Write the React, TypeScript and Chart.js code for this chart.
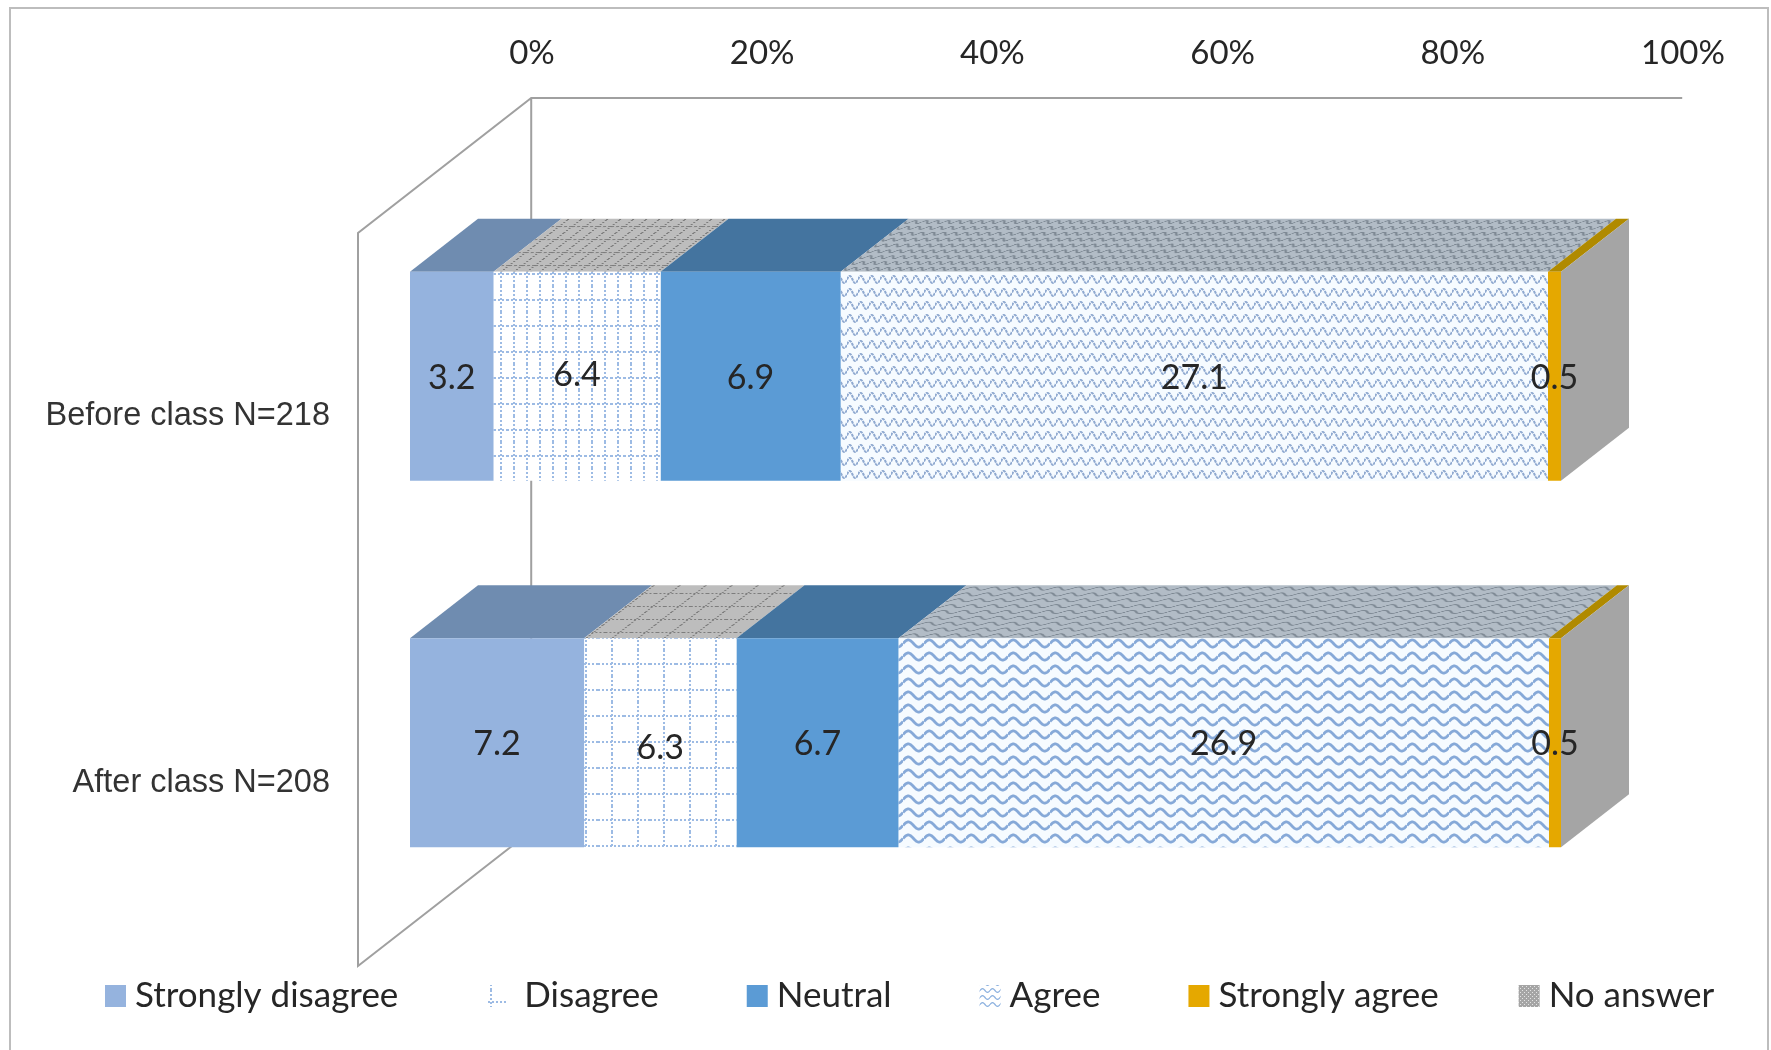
import React, { useEffect, useRef } from "react";
import { Chart, registerables } from "chart.js";

Chart.register(...registerables);

const categories = ["Before class N=218", "After class N=208"];
const seriesNames = ["Strongly disagree", "Disagree", "Neutral", "Agree", "Strongly agree", "No answer"];
const stronglyDisagree = [3.2, 7.2];
const disagree = [6.4, 6.3];
const neutral = [6.9, 6.7];
const agree = [27.1, 26.9];
const stronglyAgree = [0.5, 0.5];
const noAnswer = [0, 0];
const seriesValues = [stronglyDisagree, disagree, neutral, agree, stronglyAgree, noAnswer];
const labelNudge = [[2, -1, 2, 2, 2, 0], [1, 5, 1, 1, 1, 0]];

const W = 1771;
const H = 1050;
const DEPTH_X = 68;
const DEPTH_Y = 53;
const WALL_DX = 52;
const WALL_DY = 40;
const LABEL_FONT = "Lato";
const TEXT = "#262626";

function tile(w: number, h: number, draw: (c: CanvasRenderingContext2D) => void) {
  const cv = document.createElement("canvas");
  cv.width = w;
  cv.height = h;
  const c = cv.getContext("2d") as CanvasRenderingContext2D;
  draw(c);
  return cv;
}

function gridTile(stepX: number, stepY: number, bg: string, fg: string) {
  return tile(stepX, stepY, (c) => {
    c.fillStyle = bg;
    c.fillRect(0, 0, stepX, stepY);
    c.fillStyle = fg;
    for (let y = 0; y < stepY; y += 4) c.fillRect(Math.floor(stepX / 2), y, 2, 2);
    for (let x = 0; x < stepX; x += 4) c.fillRect(x, Math.floor(stepY / 2), 2, 2);
  });
}

function waveTile(
  period: number,
  rowH: number,
  amp: number,
  cycles: number,
  bg: string,
  fg: string,
  lw: number,
  dash: number[] = []
) {
  return tile(period, rowH, (c) => {
    c.fillStyle = bg;
    c.fillRect(0, 0, period, rowH);
    c.strokeStyle = fg;
    c.lineWidth = lw;
    c.setLineDash(dash);
    c.beginPath();
    const n = 48;
    for (let i = 0; i <= n; i++) {
      const t = i / n;
      const y = rowH / 2 - amp * Math.sin(t * Math.PI * 2 * cycles);
      if (i === 0) c.moveTo(t * period, y);
      else c.lineTo(t * period, y);
    }
    c.stroke();
  });
}

function noAnswerTile() {
  return tile(4, 4, (c) => {
    c.fillStyle = "#a5a5a5";
    c.fillRect(0, 0, 4, 4);
    c.fillStyle = "#e4e4e4";
    c.fillRect(0, 0, 1, 1);
    c.fillRect(2, 2, 1, 1);
  });
}

function pat(ctx: CanvasRenderingContext2D, cv: HTMLCanvasElement) {
  return ctx.createPattern(cv, "repeat") as CanvasPattern;
}

function shearedPat(ctx: CanvasRenderingContext2D, cv: HTMLCanvasElement, scaleY: number, originY: number) {
  const p = pat(ctx, cv);
  p.setTransform(new DOMMatrix([1, 0, (-DEPTH_X / DEPTH_Y) * scaleY, scaleY, 0, originY]));
  return p;
}

const frame3d = {
  id: "frame3d",
  beforeDraw(chart: any) {
    const c = chart.ctx as CanvasRenderingContext2D;
    c.save();
    c.fillStyle = "#ffffff";
    c.fillRect(0, 0, W, H);
    c.strokeStyle = "#bdbdbd";
    c.lineWidth = 2;
    c.strokeRect(10, 8, 1758, H + 20);
    c.restore();
  },
  beforeDatasetsDraw(chart: any) {
    const c = chart.ctx as CanvasRenderingContext2D;
    const { left, right, top, bottom } = chart.chartArea;
    const x0 = left - WALL_DX;
    const yT = top + WALL_DY;
    const yB = bottom + WALL_DY;
    const ratio = DEPTH_X / DEPTH_Y;
    const wallDy = 135;
    const wallDx = wallDy * ratio;
    const backX = x0 + wallDx;
    c.save();
    c.strokeStyle = "#a0a0a0";
    c.lineWidth = 2;
    c.beginPath();
    c.moveTo(right + backX - left, yT - wallDy);
    c.lineTo(backX, yT - wallDy);
    c.lineTo(x0, yT);
    c.lineTo(x0, yB);
    c.lineTo(backX, yB - wallDy);
    c.moveTo(backX, yT - wallDy);
    c.lineTo(backX, yB - wallDy);
    c.stroke();

    // depth faces of every stacked bar, taken from the bar elements
    chart.data.datasets.forEach((ds: any, di: number) => {
      const meta = chart.getDatasetMeta(di);
      meta.data.forEach((el: any, bi: number) => {
        const p = el.getProps(["x", "y", "base", "height"], true);
        const ty = p.y - p.height / 2;
        if (p.x - p.base <= 0) return;
        c.beginPath();
        c.moveTo(p.base, ty);
        c.lineTo(p.x, ty);
        c.lineTo(p.x + DEPTH_X, ty - DEPTH_Y);
        c.lineTo(p.base + DEPTH_X, ty - DEPTH_Y);
        c.closePath();
        c.fillStyle = ds.topFill[bi](ty);
        c.fill();
      });
    });
    // end cap in the colour of the last (empty) series
    const lastDs = chart.data.datasets.length - 1;
    chart.getDatasetMeta(lastDs).data.forEach((el: any) => {
      const p = el.getProps(["x", "y", "height"], true);
      const ty = p.y - p.height / 2;
      const by = p.y + p.height / 2;
      c.beginPath();
      c.moveTo(p.x, ty);
      c.lineTo(p.x + DEPTH_X, ty - DEPTH_Y);
      c.lineTo(p.x + DEPTH_X, by - DEPTH_Y);
      c.lineTo(p.x, by);
      c.closePath();
      c.fillStyle = "#a5a5a5";
      c.fill();
    });
    c.restore();
  },
  afterDatasetsDraw(chart: any) {
    const c = chart.ctx as CanvasRenderingContext2D;
    c.save();
    c.font = `34px ${LABEL_FONT}`;
    c.fillStyle = TEXT;
    c.textAlign = "center";
    c.textBaseline = "middle";
    seriesValues.forEach((vals, di) => {
      const meta = chart.getDatasetMeta(di);
      vals.forEach((v, bi) => {
        if (!v) return;
        const p = meta.data[bi].getProps(["x", "y", "base"], true);
        c.fillText(v.toFixed(1), (p.x + p.base) / 2, p.y + labelNudge[bi][di]);
      });
    });

    // legend row
    const swatchW = 21;
    const swatchH = 22;
    const textGap = [9, 17, 9, 9, 9, 9];
    const itemGap = [88, 88, 88, 88, 80, 0];
    const cy = 996;
    c.font = `35px ${LABEL_FONT}`;
    c.textAlign = "left";
    let x = 105;
    chart.data.datasets.forEach((ds: any, i: number) => {
      c.fillStyle = ds.legendFill;
      c.fillRect(x, cy - swatchH / 2, swatchW, swatchH);
      x += swatchW + textGap[i];
      c.fillStyle = TEXT;
      c.fillText(ds.label, x, cy);
      x += c.measureText(ds.label).width + itemGap[i];
    });
    c.restore();
  },
};

export default function App() {
  const ref = useRef<HTMLCanvasElement | null>(null);
  useEffect(() => {
    const cv = ref.current as HTMLCanvasElement;
    const ctx = cv.getContext("2d") as CanvasRenderingContext2D;
    const totals = categories.map((_, i) => seriesValues.reduce((s, arr) => s + arr[i], 0));

    const dotBlue = "#9dbbe4";
    const gridFront = [gridTile(13, 26, "#ffffff", dotBlue), gridTile(26, 26, "#ffffff", dotBlue)];
    const gridTop = [gridTile(13, 26, "#bdbdbd", "#7d7d7d"), gridTile(26, 26, "#bdbdbd", "#7d7d7d")];
    const waveFront = [
      waveTile(11, 13, 3.6, 1, "#f6fbff", "#8fa9d0", 2, [3, 0.8]),
      waveTile(21, 13, 3.6, 1, "#f6fbff", "#86a9d8", 2.8),
    ];
    const waveTop = [
      waveTile(11, 13, 3.2, 1, "#b2bcc6", "#7c8792", 2),
      waveTile(21, 13, 3.4, 1, "#b2bcc6", "#7c8792", 2),
    ];
    const solid = (color: string) => [() => color, () => color];
    const topGrid = gridTop.map((t) => (y: number) => shearedPat(ctx, t, 0.5, y));
    const topWave = waveTop.map((t) => (y: number) => shearedPat(ctx, t, 0.45, y));

    const legendFills: any[] = [
      "#95b3de",
      pat(ctx, gridTile(20, 22, "#ffffff", "#9dbbe4")),
      "#5b9bd5",
      pat(ctx, waveTile(10, 7, 1.8, 1, "#ffffff", "#8fb3e0", 1.3)),
      "#e5a800",
      pat(ctx, noAnswerTile()),
    ];
    const fronts: any[] = [
      ["#95b3de", "#95b3de"],
      gridFront.map((t) => pat(ctx, t)),
      ["#5b9bd5", "#5b9bd5"],
      waveFront.map((t) => pat(ctx, t)),
      ["#e5a800", "#e5a800"],
      ["#a5a5a5", "#a5a5a5"],
    ];
    const tops: any[] = [
      solid("#6f8cb0"),
      topGrid,
      solid("#44749f"),
      topWave,
      solid("#b08a00"),
      solid("#808080"),
    ];

    const chart = new Chart(cv, {
      type: "bar",
      data: {
        labels: categories,
        datasets: seriesNames.map((name, i) => ({
          label: name,
          data: seriesValues[i].map((v, j) => (v / totals[j]) * 100),
          backgroundColor: fronts[i],
          borderWidth: 0,
          barPercentage: 0.57,
          categoryPercentage: 1,
          topFill: tops[i],
          legendFill: legendFills[i],
        })) as any,
      },
      options: {
        indexAxis: "y",
        responsive: false,
        maintainAspectRatio: false,
        animation: false,
        layout: { padding: { left: 0, top: 0, right: 210, bottom: 124 } },
        plugins: { legend: { display: false }, tooltip: { enabled: false }, title: { display: false } },
        scales: {
          x: {
            position: "top",
            stacked: true,
            min: 0,
            max: 100,
            grid: { display: false, drawTicks: false },
            border: { display: false },
            afterFit: (s: any) => {
              s.height = 193;
            },
            ticks: {
              stepSize: 20,
              maxRotation: 0,
              padding: 120,
              labelOffset: 122,
              color: TEXT,
              font: { family: LABEL_FONT, size: 33 },
              callback: (v: any) => `${v}%`,
            },
          },
          y: {
            stacked: true,
            grid: { display: false, drawTicks: false },
            border: { display: false },
            afterFit: (s: any) => {
              s.width = 410;
            },
            ticks: {
              padding: 80,
              labelOffset: 40,
              color: "#333333",
              font: { family: "Liberation Sans", size: 32.5 },
            },
          },
        },
      },
      plugins: [frame3d],
    } as any);
    return () => chart.destroy();
  }, []);

  return (
    <canvas
      ref={ref}
      width={W}
      height={H}
      style={{ position: "fixed", left: 0, top: 0, display: "block", width: W, height: H }}
    />
  );
}
